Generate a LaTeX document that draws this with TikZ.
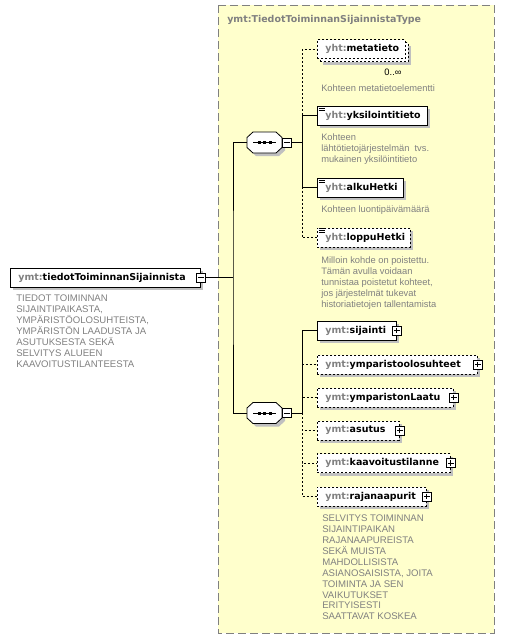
\documentclass[tikz,border=0pt]{standalone}
\usepackage{fontspec}
\setmainfont{Liberation Sans}
\newfontfamily\namefont{DejaVu Sans}
\usetikzlibrary{shadows,calc}
\definecolor{typeYellow}{RGB}{255, 255, 204}
\definecolor{frameGray}{RGB}{128, 128, 128}
\definecolor{pfxGray}{RGB}{128, 128, 128}
\definecolor{descGray}{RGB}{128, 128, 128}
\definecolor{shadowGray}{RGB}{192, 192, 192}
\newcommand\pfx[1]{\textcolor{pfxGray}{#1}}
\tikzset{
  cell/.style={draw, fill=white, line width=0.6pt, anchor=west, align=left,
    inner xsep=6pt, inner ysep=0pt, minimum height=14.25pt, text width=#1,
    font=\namefont\bfseries\fontsize{7.1pt}{8pt}\selectfont},
  elem/.style={cell=#1, general shadow={fill=shadowGray, shadow xshift=2.25pt, shadow yshift=-2.25pt}},
  opt/.style={dash pattern=on 1.5pt off 1.5pt},
  togglebox/.style={draw, fill=white, line width=0.5pt, minimum size=6.75pt, inner sep=0pt},
  plusbox/.style={togglebox, path picture={
    \draw[line width=0.5pt] ([xshift=1.3pt]path picture bounding box.west) -- ([xshift=-1.3pt]path picture bounding box.east)
      ([yshift=-1.3pt]path picture bounding box.north) -- ([yshift=1.3pt]path picture bounding box.south);}},
  minusbox/.style={togglebox, path picture={
    \draw[line width=0.5pt] ([xshift=1.3pt]path picture bounding box.west) -- ([xshift=-1.3pt]path picture bounding box.east);}},
  seqbox/.style={minimum width=26.25pt, minimum height=15.75pt, inner sep=0pt},
  desc/.style={anchor=north west, align=left, inner sep=0pt, text=descGray,
    font=\fontsize{7pt}{8.25pt}\selectfont},
  capsdesc/.style={desc, font=\fontsize{7.2pt}{8.2pt}\selectfont},
  wire/.style={line width=0.6pt},
}
\begin{document}
\begin{tikzpicture}[x=0.75pt, y=-0.75pt]
\useasboundingbox (0,0) rectangle (505,640);

% complex type frame
\draw[frameGray, fill=typeYellow, line width=0.75pt, dash pattern=on 6pt off 3pt] (218,5) rectangle (494,633);
\node[anchor=west, inner sep=0pt, text=pfxGray, font=\namefont\bfseries\fontsize{7.1pt}{8pt}\selectfont] (typename) at (227,20) {ymt:TiedotToiminnanSijainnistaType};

% root element
\node[elem=130.5pt] (root) at (10,277.5) {\pfx{ymt:}tiedotToiminnanSijainnista};
\node[minusbox] (root-m) at (root.east) {};
\node[capsdesc] (rootdesc) at (16,294.5) {TIEDOT TOIMINNAN\\SIJAINTIPAIKASTA,\\YMPÄRISTÖOLOSUHTEISTA,\\YMPÄRISTÖN LAADUSTA JA\\ASUTUKSESTA SEKÄ\\SELVITYS ALUEEN\\KAAVOITUSTILANTEESTA};

% sequences
\node[seqbox] (seq1) at (264.5,142.5) {};
\node[seqbox] (seq2) at (264.5,413) {};
\foreach \s in {seq1,seq2} {
  \fill[shadowGray] ($(\s.center)+(3,3)$) +(-11.5,-10.5) -- +(11.5,-10.5) -- +(17.5,-5) -- +(17.5,5)
    -- +(11.5,10.5) -- +(-11.5,10.5) -- +(-17.5,5) -- +(-17.5,-5) -- cycle;
  \draw[line width=0.6pt, fill=white] (\s.center) +(-11.5,-10.5) -- +(11.5,-10.5) -- +(17.5,-5) -- +(17.5,5)
    -- +(11.5,10.5) -- +(-11.5,10.5) -- +(-17.5,5) -- +(-17.5,-5) -- cycle;
  \draw[line width=0.6pt] ($(\s.center)+(-11.5,0)$) -- ($(\s.center)+(11.5,0)$);
  \foreach \d in {-5.5,0,5.5}
    \fill ($(\s.center)+(\d-1.5,-1.5)$) rectangle ($(\s.center)+(\d+1.5,1.5)$);
}
\node[minusbox, anchor=west] (seq1-m) at (seq1.east) {};
\node[minusbox, anchor=west] (seq2-m) at (seq2.east) {};

% first sequence
\node[elem=54pt, opt] (metatieto-b) at (320,52) {\phantom{\pfx{yht:}metatieto}};
\node[cell=54pt, opt] (metatieto) at (317,49) {\pfx{yht:}metatieto};
\node[font=\fontsize{7pt}{8pt}\selectfont, inner sep=0pt] (metatieto-n) at (393,72) {0..∞};
\node[desc] (metadesc) at (321,84.5) {Kohteen metatietoelementti};

\node[elem=70.5pt] (yksilointitieto) at (317,115.5) {\pfx{yht:}yksilointitieto};
\node[desc] (yksdesc) at (321,133.5) {Kohteen\\lähtötietojärjestelmän~ tvs.\\mukainen yksilöintitieto};

\node[elem=52.5pt] (alkuHetki) at (317,187.5) {\pfx{yht:}alkuHetki};
\node[desc] (alkudesc) at (321,205.5) {Kohteen luontipäivämäärä};

\node[elem=57.75pt, opt] (loppuHetki) at (317,237.5) {\pfx{yht:}loppuHetki};
\node[desc] (loppudesc) at (321,256.5) {Milloin kohde on poistettu.\\Tämän avulla voidaan\\tunnistaa poistetut kohteet,\\jos järjestelmät tukevat\\historiatietojen tallentamista};

\foreach \b in {yksilointitieto,alkuHetki,loppuHetki}
  \foreach \k in {1.2,3,4.8}
    \draw[line width=0.5pt] ($(\b.north west)+(1.5,\k)$) -- ++(6,0);

% second sequence
\node[elem=47.25pt] (sijainti) at (317,330.5) {\pfx{ymt:}sijainti};
\node[elem=108pt, opt] (ymparistoolosuhteet) at (317,364.5) {\pfx{ymt:}ymparistoolosuhteet};
\node[elem=90pt, opt] (ymparistonLaatu) at (317,397.5) {\pfx{ymt:}ymparistonLaatu};
\node[elem=49.5pt, opt] (asutus) at (317,430.5) {\pfx{ymt:}asutus};
\node[elem=87.75pt, opt] (kaavoitustilanne) at (317,463) {\pfx{ymt:}kaavoitustilanne};
\node[elem=69.75pt, opt] (rajanaapurit) at (317,496.5) {\pfx{ymt:}rajanaapurit};
\foreach \b in {sijainti,ymparistoolosuhteet,ymparistonLaatu,asutus,kaavoitustilanne,rajanaapurit}
  \node[plusbox] (\b-p) at (\b.east) {};
\node[capsdesc] (rajadesc) at (322,514.5) {SELVITYS TOIMINNAN\\SIJAINTIPAIKAN\\RAJANAAPUREISTA\\SEKÄ MUISTA\\MAHDOLLISISTA\\ASIANOSAISISTA, JOITA\\TOIMINTA JA SEN\\VAIKUTUKSET\\ERITYISESTI\\SAATTAVAT KOSKEA};

% connectors
\coordinate (busA) at (233,0);
\coordinate (busB) at (302,0);
\draw[wire] (root-m.east) -- (root-m.east -| busA);
\draw[wire] (seq1.west) -| (root-m.east -| busA) |- (seq2.west);

\draw[wire, opt] (seq1-m.east -| busB) |- (metatieto.west);
\draw[wire, opt] (seq1-m.east -| busB) |- (loppuHetki.west);
\draw[wire] (seq1-m.east) -- (seq1-m.east -| busB) |- (yksilointitieto.west);
\draw[wire] (seq1-m.east -| busB) |- (alkuHetki.west);

\foreach \b in {ymparistoolosuhteet,ymparistonLaatu,asutus,kaavoitustilanne,rajanaapurit}
  \draw[wire, opt] (seq2-m.east -| busB) |- (\b.west);
\draw[wire] (seq2-m.east) -- (seq2-m.east -| busB) |- (sijainti.west);
\end{tikzpicture}
\end{document}
